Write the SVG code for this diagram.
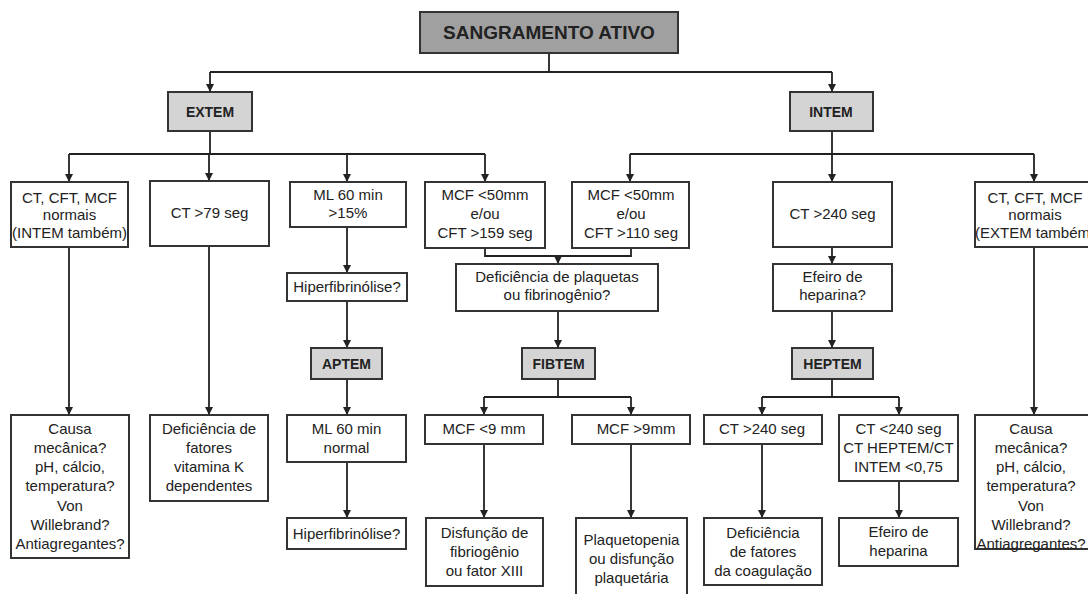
<svg xmlns="http://www.w3.org/2000/svg" width="1088" height="594" viewBox="0 0 1088 594">
<style>
.box{fill:#fff;stroke:#333;stroke-width:2}
.g1{fill:#a0a0a0;stroke:#333;stroke-width:2}
.g2{fill:#d4d4d4;stroke:#333;stroke-width:2}
text{font-family:"Liberation Sans",Arial,sans-serif;font-size:15px;fill:#222;text-anchor:middle}
.b{font-weight:bold;font-size:14px}
.t{font-weight:bold;font-size:19px}
.ln{fill:none;stroke:#222;stroke-width:1.8}
</style>
<defs>
<marker id="ah" markerWidth="9" markerHeight="8" refX="8" refY="4" orient="auto" markerUnits="userSpaceOnUse">
<path d="M0,0 L8,4 L0,8 Z" fill="#222"/>
</marker>
</defs>
<rect width="1088" height="594" fill="#fff"/>
<g id="connectors">
<path class="ln" d="M549,53 V72 M210,72 H832"/>
<path class="ln" marker-end="url(#ah)" d="M210,72 V92"/>
<path class="ln" marker-end="url(#ah)" d="M832,72 V92"/>
<path class="ln" d="M210,131 V154 M69,154 H485"/>
<path class="ln" marker-end="url(#ah)" d="M69,154 V182"/>
<path class="ln" marker-end="url(#ah)" d="M209,154 V181"/>
<path class="ln" marker-end="url(#ah)" d="M347,154 V182"/>
<path class="ln" marker-end="url(#ah)" d="M485,154 V182"/>
<path class="ln" d="M832,131 V154 M630,154 H1034"/>
<path class="ln" marker-end="url(#ah)" d="M630,154 V182"/>
<path class="ln" marker-end="url(#ah)" d="M832,154 V182"/>
<path class="ln" marker-end="url(#ah)" d="M1034,154 V182"/>
<path class="ln" marker-end="url(#ah)" d="M69,247 V415"/>
<path class="ln" marker-end="url(#ah)" d="M209,246 V415"/>
<path class="ln" marker-end="url(#ah)" d="M347,227 V273"/>
<path class="ln" marker-end="url(#ah)" d="M347,301 V348"/>
<path class="ln" marker-end="url(#ah)" d="M347,379 V415"/>
<path class="ln" marker-end="url(#ah)" d="M347,462 V518"/>
<path class="ln" d="M485,248 V256 H631 V248"/>
<path class="ln" marker-end="url(#ah)" d="M558,256 V264"/>
<path class="ln" marker-end="url(#ah)" d="M558,311 V348"/>
<path class="ln" d="M558,379 V397 M484,397 H631"/>
<path class="ln" marker-end="url(#ah)" d="M484,397 V415"/>
<path class="ln" marker-end="url(#ah)" d="M631,397 V415"/>
<path class="ln" marker-end="url(#ah)" d="M484,444 V518"/>
<path class="ln" marker-end="url(#ah)" d="M631,444 V518"/>
<path class="ln" marker-end="url(#ah)" d="M832,247 V264"/>
<path class="ln" marker-end="url(#ah)" d="M832,311 V348"/>
<path class="ln" d="M832,379 V397 M762,397 H899"/>
<path class="ln" marker-end="url(#ah)" d="M762,397 V415"/>
<path class="ln" marker-end="url(#ah)" d="M899,397 V415"/>
<path class="ln" marker-end="url(#ah)" d="M762,444 V518"/>
<path class="ln" marker-end="url(#ah)" d="M899,481 V518"/>
<path class="ln" marker-end="url(#ah)" d="M1034,247 V415"/>
</g>
<g id="sangramento"><rect class="g1" x="420" y="12" width="258" height="41"/><text class="t" x="549" y="39">SANGRAMENTO ATIVO</text></g>
<g id="extem"><rect class="g2" x="168" y="92" width="84" height="39"/><text class="b" x="210" y="117">EXTEM</text></g>
<g id="intem"><rect class="g2" x="790" y="92" width="83" height="39"/><text class="b" x="831" y="117">INTEM</text></g>
<g id="n-normais-e"><rect class="box" x="11" y="182" width="117" height="65"/><text x="69.5" y="203">CT, CFT, MCF</text><text x="69.5" y="220">normais</text><text x="69.5" y="238">(INTEM também)</text></g>
<g id="n-ct79"><rect class="box" x="150" y="181" width="119" height="65"/><text x="209.5" y="218">CT &gt;79 seg</text></g>
<g id="n-ml15"><rect class="box" x="290" y="182" width="116" height="45"/><text x="348" y="200">ML 60 min</text><text x="348" y="218">&gt;15%</text></g>
<g id="n-mcf159"><rect class="box" x="425" y="182" width="120" height="66"/><text x="485" y="200">MCF &lt;50mm</text><text x="485" y="219">e/ou</text><text x="485" y="238">CFT &gt;159 seg</text></g>
<g id="n-mcf110"><rect class="box" x="572" y="182" width="117" height="66"/><text x="631" y="200">MCF &lt;50mm</text><text x="631" y="219">e/ou</text><text x="631" y="238">CFT &gt;110 seg</text></g>
<g id="n-ct240a"><rect class="box" x="773" y="182" width="119" height="65"/><text x="832.5" y="219">CT &gt;240 seg</text></g>
<g id="n-normais-i"><rect class="box" x="975" y="182" width="119" height="65"/><text x="1035" y="203">CT, CFT, MCF</text><text x="1035" y="220">normais</text><text x="1035" y="238">(EXTEM também)</text></g>
<g id="n-hiper1"><rect class="box" x="287" y="273" width="120" height="28"/><text x="347" y="292">Hiperfibrinólise?</text></g>
<g id="n-defplaq"><rect class="box" x="456" y="264" width="202" height="47"/><text x="557" y="282">Deficiência de plaquetas</text><text x="557" y="300">ou fibrinogênio?</text></g>
<g id="n-efeiro1"><rect class="box" x="773" y="264" width="119" height="47"/><text x="832.5" y="282">Efeiro de</text><text x="832.5" y="300">heparina?</text></g>
<g id="aptem"><rect class="g2" x="311" y="348" width="71" height="31"/><text class="b" x="346.5" y="369">APTEM</text></g>
<g id="fibtem"><rect class="g2" x="522" y="348" width="73" height="31"/><text class="b" x="558.5" y="369">FIBTEM</text></g>
<g id="heptem"><rect class="g2" x="792" y="348" width="81" height="31"/><text class="b" x="832.5" y="369">HEPTEM</text></g>
<g id="n-causa-e"><rect class="box" x="11" y="415" width="118" height="143"/><text x="70" y="434">Causa</text><text x="70" y="453">mecânica?</text><text x="70" y="472">pH, cálcio,</text><text x="70" y="491">temperatura?</text><text x="70" y="511">Von</text><text x="70" y="530">Willebrand?</text><text x="70" y="549">Antiagregantes?</text></g>
<g id="n-vitk"><rect class="box" x="150" y="415" width="118" height="86"/><text x="209" y="434">Deficiência de</text><text x="209" y="453">fatores</text><text x="209" y="472">vitamina K</text><text x="209" y="491">dependentes</text></g>
<g id="n-mlnormal"><rect class="box" x="287" y="415" width="119" height="47"/><text x="346.5" y="434">ML 60 min</text><text x="346.5" y="453">normal</text></g>
<g id="n-mcf9a"><rect class="box" x="425" y="415" width="118" height="29"/><text x="484" y="434">MCF &lt;9 mm</text></g>
<g id="n-mcf9b"><rect class="box" x="572" y="415" width="118" height="29"/><text x="636" y="434">MCF &gt;9mm</text></g>
<g id="n-ct240b"><rect class="box" x="704" y="415" width="118" height="29"/><text x="762" y="434">CT &gt;240 seg</text></g>
<g id="n-ct240c"><rect class="box" x="839" y="415" width="119" height="66"/><text x="898.5" y="434">CT &lt;240 seg</text><text x="898.5" y="453">CT HEPTEM/CT</text><text x="898.5" y="472">INTEM &lt;0,75</text></g>
<g id="n-causa-i"><rect class="box" x="975" y="415" width="119" height="134"/><text x="1031" y="434">Causa</text><text x="1031" y="453">mecânica?</text><text x="1031" y="472">pH, cálcio,</text><text x="1031" y="491">temperatura?</text><text x="1031" y="511">Von</text><text x="1031" y="530">Willebrand?</text><text x="1031" y="549">Antiagregantes?</text></g>
<g id="n-hiper2"><rect class="box" x="287" y="518" width="119" height="31"/><text x="346.5" y="539">Hiperfibrinólise?</text></g>
<g id="n-disf"><rect class="box" x="426" y="518" width="117" height="68"/><text x="484.5" y="538">Disfunção de</text><text x="484.5" y="557">fibriogênio</text><text x="484.5" y="576">ou fator XIII</text></g>
<g id="n-plaq"><path class="box" d="M576,600 V518 H687 V600"/><text x="631.5" y="545">Plaquetopenia</text><text x="631.5" y="564">ou disfunção</text><text x="631.5" y="583">plaquetária</text></g>
<g id="n-defcoag"><rect class="box" x="704" y="518" width="118" height="67"/><text x="763" y="538">Deficiência</text><text x="763" y="557">de fatores</text><text x="763" y="576">da coagulação</text></g>
<g id="n-efeiro2"><rect class="box" x="839" y="518" width="119" height="48"/><text x="898.5" y="537">Efeiro de</text><text x="898.5" y="556">heparina</text></g>
</svg>
